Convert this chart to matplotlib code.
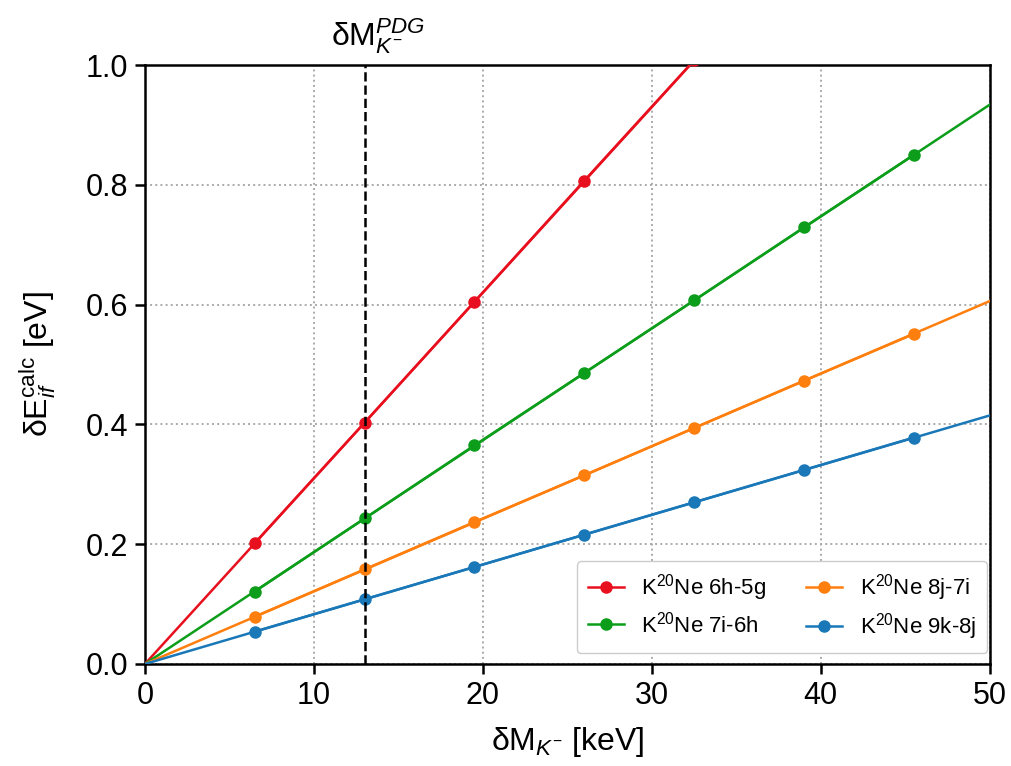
import matplotlib
matplotlib.use("Agg")
import matplotlib.pyplot as plt
from matplotlib.transforms import blended_transform_factory

plt.rcParams["font.family"] = ["Liberation Sans", "DejaVu Sans"]
plt.rcParams["mathtext.fontset"] = "custom"
plt.rcParams["mathtext.rm"] = "Liberation Sans"
plt.rcParams["mathtext.it"] = "Liberation Sans:italic"
plt.rcParams["mathtext.bf"] = "Liberation Sans:bold"

# kaon mass shift values (keV) where the energy shifts were computed
delta_m = [6.5, 13.0, 19.5, 26.0, 32.5, 39.0, 45.5]
delta_m_pdg = 13.0

labels = [
    r"K$^{20}$Ne 6h-5g",
    r"K$^{20}$Ne 7i-6h",
    r"K$^{20}$Ne 8j-7i",
    r"K$^{20}$Ne 9k-8j",
]
colors = ["#e8101e", "#0c9e1a", "#ff7f0e", "#1a78b8"]

shift_6h5g = [0.202, 0.403, 0.605, 0.807, 1.008]
shift_7i6h = [0.121, 0.243, 0.365, 0.486, 0.607, 0.729, 0.850]
shift_8j7i = [0.079, 0.158, 0.237, 0.315, 0.394, 0.473, 0.551]
shift_9k8j = [0.054, 0.108, 0.162, 0.216, 0.270, 0.324, 0.378]
series = [shift_6h5g, shift_7i6h, shift_8j7i, shift_9k8j]

# straight-line fits, drawn from the origin to the right edge
line_x = [0.0, 50.0]
line_end = [1.55, 0.934, 0.606, 0.415]


def main():
    fig = plt.figure(figsize=(10.11, 7.66), dpi=100)
    ax = fig.add_axes([0.1434, 0.1332, 0.8356, 0.7818])

    for values, end, color, label in zip(series, line_end, colors, labels):
        ax.plot(line_x, [0.0, end], color=color, lw=1.8, zorder=3)
        ax.plot(delta_m[:len(values)], values, "o", color=color, ms=8, zorder=4,
                label=label, linestyle="-", lw=1.8)

    ax.axvline(delta_m_pdg, color="black", linestyle="--", lw=1.8, zorder=5)
    trans = blended_transform_factory(ax.transData, ax.transAxes)
    ax.text(delta_m_pdg + 0.8, 1.015, r"δM$_{K^{-}}^{PDG}$", transform=trans,
            ha="center", va="bottom", fontsize=23)

    ax.set_xlim(0, 50)
    ax.set_ylim(0, 1.0)
    ax.set_xticks([0, 10, 20, 30, 40, 50])
    ax.set_yticks([0.0, 0.2, 0.4, 0.6, 0.8, 1.0])
    ax.grid(True, linestyle=":", color="#aaaaaa", linewidth=1.4)
    ax.tick_params(labelsize=22, width=1.8, length=7, pad=5)
    for spine in ax.spines.values():
        spine.set_linewidth(1.8)

    ax.set_xlabel(r"δM$_{K^{-}}$ [keV]", fontsize=23, labelpad=10)
    ax.set_ylabel(r"δE$_{if}^{\mathrm{calc}}$ [eV]", fontsize=23, labelpad=20)

    ax.legend(loc="lower right", ncol=2, fontsize=16, handlelength=1.6,
              columnspacing=1.8, borderpad=0.5, labelspacing=0.35,
              framealpha=1.0, edgecolor="#cccccc", borderaxespad=0,
              bbox_to_anchor=(0.997, 0.018))

    fig.savefig("out.png", dpi=100)


if __name__ == "__main__":
    main()
